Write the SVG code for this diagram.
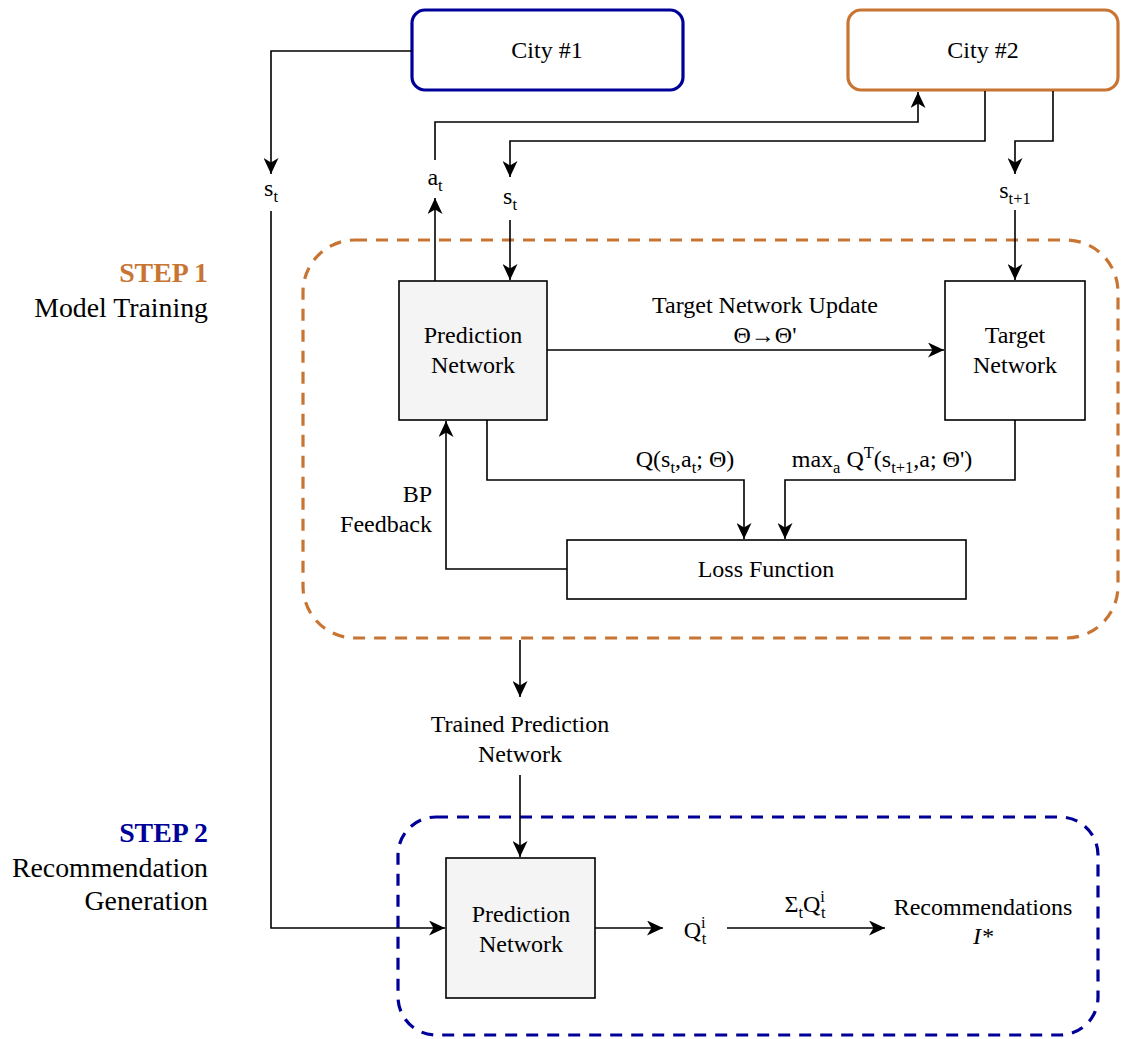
<svg xmlns="http://www.w3.org/2000/svg" width="1121" height="1039" viewBox="0 0 1121 1039">
<style>
text{font-family:'Liberation Serif','Times New Roman',Times,'DejaVu Serif',serif;font-size:24px;fill:#000}
.c{text-anchor:middle}
.r{text-anchor:end}
.big{font-size:27.8px}
.sub{font-size:16.5px}
.box{fill:#fff;stroke:#000;stroke-width:1.6}
.grey{fill:#f4f4f4}
.con{fill:none;stroke:#000;stroke-width:1.6}
</style>
<defs>
<marker id="arr" markerUnits="userSpaceOnUse" markerWidth="16" markerHeight="15" viewBox="0 0 16 15" refX="16" refY="7.5" orient="auto">
<path d="M0,0 L16,7.5 L0,15 L4.5,7.5 z" fill="#000"/>
</marker>
</defs>
<rect width="1121" height="1039" fill="#fff"/>

<g id="step1-group">
<rect x="303" y="240" width="815" height="398" rx="52" ry="52" fill="none" stroke="#c87533" stroke-width="3.2" stroke-dasharray="12 9"/>
</g>
<g id="step2-group">
<rect x="398" y="817" width="700" height="218" rx="38" ry="38" fill="none" stroke="#000099" stroke-width="3.2" stroke-dasharray="12 9"/>
</g>

<g id="step1-label">
<text class="big r" x="208" y="282" font-weight="bold" style="fill:#c87533">STEP 1</text>
<text class="big r" x="208" y="317">Model Training</text>
</g>
<g id="step2-label">
<text class="big r" x="208" y="842" font-weight="bold" style="fill:#000099">STEP 2</text>
<text class="big r" x="208" y="877">Recommendation</text>
<text class="big r" x="208" y="910">Generation</text>
</g>

<g id="city1">
<rect x="412" y="10" width="271" height="80" rx="13" ry="13" fill="#fff" stroke="#000099" stroke-width="3.2"/>
<text class="c" x="547" y="58">City #1</text>
</g>
<g id="city2">
<rect x="848" y="10" width="270" height="80" rx="13" ry="13" fill="#fff" stroke="#c87533" stroke-width="3.2"/>
<text class="c" x="983" y="58">City #2</text>
</g>

<g id="prediction-network-1">
<rect class="box grey" x="399" y="281" width="148" height="139"/>
<text class="c" x="473" y="343">Prediction</text>
<text class="c" x="473" y="373">Network</text>
</g>
<g id="target-network">
<rect class="box" x="945" y="281" width="140" height="139"/>
<text class="c" x="1015" y="343">Target</text>
<text class="c" x="1015" y="373">Network</text>
</g>
<g id="loss-function">
<rect class="box" x="567" y="540" width="399" height="59"/>
<text class="c" x="766" y="577">Loss Function</text>
</g>
<g id="prediction-network-2">
<rect class="box grey" x="446" y="858" width="149" height="140"/>
<text class="c" x="521" y="922">Prediction</text>
<text class="c" x="521" y="952">Network</text>
</g>

<g id="labels">
<text class="c" x="271" y="196">s<tspan class="sub" dy="6">t</tspan></text>
<text class="c" x="435" y="185">a<tspan class="sub" dy="6">t</tspan></text>
<text class="c" x="510" y="204">s<tspan class="sub" dy="6">t</tspan></text>
<text class="c" x="1015" y="198">s<tspan class="sub" dy="6">t+1</tspan></text>
<text class="c" x="765" y="313">Target Network Update</text>
<text class="c" x="765" y="343">Θ→Θ'</text>
<text class="c" x="685" y="467">Q(s<tspan class="sub" dy="6">t</tspan><tspan dy="-6">,a</tspan><tspan class="sub" dy="6">t</tspan><tspan dy="-6">; Θ)</tspan></text>
<text class="c" x="882" y="467">max<tspan class="sub" dy="6">a</tspan><tspan dy="-6"> Q</tspan><tspan class="sub" dy="-9">T</tspan><tspan dy="9">(s</tspan><tspan class="sub" dy="6">t+1</tspan><tspan dy="-6">,a; Θ')</tspan></text>
<text class="r" x="432" y="502">BP</text>
<text class="r" x="432" y="532">Feedback</text>
<text class="c" x="520" y="732">Trained Prediction</text>
<text class="c" x="520" y="762">Network</text>
<text class="c" x="695" y="938">Q<tspan class="sub" dy="-10">i</tspan><tspan class="sub" dx="-4" dy="16">t</tspan></text>
<text class="c" x="805" y="912">Σ<tspan class="sub" dy="6">t</tspan><tspan dy="-6">Q</tspan><tspan class="sub" dy="-10">i</tspan><tspan class="sub" dx="-4" dy="16">t</tspan></text>
<text class="c" x="983" y="915">Recommendations</text>
<text class="c" x="983" y="944" font-style="italic">I*</text>
</g>

<g id="connectors">
<path class="con" d="M412,51 H271 V174" marker-end="url(#arr)"/>
<path class="con" d="M271,211 V928 H445" marker-end="url(#arr)"/>
<path class="con" d="M435,281 V198" marker-end="url(#arr)"/>
<path class="con" d="M435,160 V122 H918 V92" marker-end="url(#arr)"/>
<path class="con" d="M985,91 V141 H510 V177" marker-end="url(#arr)"/>
<path class="con" d="M510,220 V280" marker-end="url(#arr)"/>
<path class="con" d="M1053,91 V141 H1015 V174" marker-end="url(#arr)"/>
<path class="con" d="M1015,210 V280" marker-end="url(#arr)"/>
<path class="con" d="M547,350 H944" marker-end="url(#arr)"/>
<path class="con" d="M487,420 V480 H744 V539" marker-end="url(#arr)"/>
<path class="con" d="M1015,420 V480 H785 V539" marker-end="url(#arr)"/>
<path class="con" d="M567,569 H446 V421" marker-end="url(#arr)"/>
<path class="con" d="M520,640 V697" marker-end="url(#arr)"/>
<path class="con" d="M520,775 V857" marker-end="url(#arr)"/>
<path class="con" d="M595,928 H663" marker-end="url(#arr)"/>
<path class="con" d="M727,928 H885" marker-end="url(#arr)"/>
</g>
</svg>
